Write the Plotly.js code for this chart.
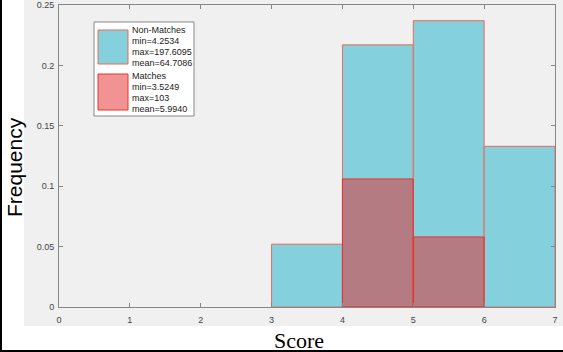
<!DOCTYPE html>
<html>
<head>
<meta charset="utf-8">
<script src="https://cdn.plot.ly/plotly-3.0.1.min.js"></script>
<style>html,body{margin:0;padding:0;background:#fff;}#chart{width:563px;height:352px;}</style>
</head>
<body>
<div id="chart"></div>
<script>
// Histogram bins (bin centers, width 1) and frequencies
const nonMatchBins = [3.5, 4.5, 5.5, 6.5];
const nonMatchFreq = [0.052, 0.217, 0.237, 0.133];
const matchBins = [4.5, 5.5];
const matchFreq = [0.106, 0.058];
const xTicks = [0, 1, 2, 3, 4, 5, 6, 7];
const yTicks = [0, 0.05, 0.1, 0.15, 0.2, 0.25];
const yTickText = ['0', '0.05', '0.1', '0.15', '0.2', '0.25'];
const nonMatchLegend = ['Non-Matches', 'min=4.2534', 'max=197.6095', 'mean=64.7086'];
const matchLegend = ['Matches', 'min=3.5249', 'max=103', 'mean=5.9940'];

const W = 563, H = 352, L = 59, R = 8, T = 5, B = 45;
const pw = W - L - R, ph = H - T - B;
const px = x => (x - L) / pw;
const py = y => (H - B - y) / ph;

const traces = [
  {type: 'bar', x: nonMatchBins, y: nonMatchFreq, width: 1, name: 'Non-Matches',
   marker: {color: '#84d0dc', line: {color: '#ec6a55', width: 1}}, hoverinfo: 'x+y'},
  {type: 'bar', x: matchBins, y: matchFreq, width: 1, name: 'Matches',
   marker: {color: 'rgba(228,40,40,0.5)', line: {color: '#e8322c', width: 1}}, hoverinfo: 'x+y'}
];

const shapes = [
  {type: 'rect', xref: 'paper', yref: 'paper', x0: px(24), x1: px(563), y0: py(0), y1: py(326),
   fillcolor: '#f0f0f0', line: {width: 0}, layer: 'below'},
  {type: 'line', xref: 'paper', yref: 'paper', x0: px(1), x1: px(1), y0: py(0), y1: py(351),
   line: {color: '#000', width: 2}},
  {type: 'line', xref: 'paper', yref: 'paper', x0: px(0), x1: px(563), y0: py(351), y1: py(351),
   line: {color: '#000', width: 2}},
  // legend box
  {type: 'rect', xref: 'paper', yref: 'paper', x0: px(94), x1: px(194), y0: py(22), y1: py(116),
   fillcolor: '#fff', line: {color: '#888', width: 1}},
  {type: 'rect', xref: 'paper', yref: 'paper', x0: px(98), x1: px(128), y0: py(30), y1: py(64),
   fillcolor: '#84d0dc', line: {color: '#ec6a55', width: 1}},
  {type: 'rect', xref: 'paper', yref: 'paper', x0: px(98), x1: px(128), y0: py(74), y1: py(110),
   fillcolor: 'rgba(228,40,40,0.5)', line: {color: '#e8322c', width: 1}}
];

const annotations = [];
const legLines = nonMatchLegend.concat(matchLegend);
const legY = [30, 41, 52, 63, 76, 87, 98, 109];
legLines.forEach((t, i) => {
  annotations.push({text: t, xref: 'paper', yref: 'paper', x: px(130), y: py(legY[i]),
    xanchor: 'left', yanchor: 'middle', showarrow: false,
    font: {family: 'Liberation Sans, Arial, sans-serif', size: 9, color: '#222'}});
});
annotations.push({text: 'Frequency', xref: 'paper', yref: 'paper', x: px(14), y: py(167),
  textangle: -90, xanchor: 'center', yanchor: 'middle', showarrow: false,
  font: {family: 'Liberation Sans, Arial, sans-serif', size: 21, color: '#000'}});
annotations.push({text: 'Score', xref: 'paper', yref: 'paper', x: px(299), y: py(340),
  xanchor: 'center', yanchor: 'middle', showarrow: false,
  font: {family: 'Liberation Serif, Times New Roman, serif', size: 22, color: '#000'}});

const axisCommon = {showgrid: false, zeroline: false, showline: true, linecolor: '#868686', linewidth: 1,
  mirror: 'ticks', ticks: 'inside', ticklen: 4, tickcolor: '#868686',
  tickfont: {family: 'Liberation Sans, Arial, sans-serif', size: 9, color: '#444'}};

const layout = {
  width: W, height: H, margin: {l: L, r: R, t: T, b: B},
  paper_bgcolor: '#ffffff', plot_bgcolor: '#ffffff',
  barmode: 'overlay', bargap: 0, showlegend: false,
  xaxis: Object.assign({}, axisCommon, {range: [0, 7], tickvals: xTicks, ticktext: xTicks.map(String),
    ticklabelstandoff: 4, fixedrange: true}),
  yaxis: Object.assign({}, axisCommon, {range: [0, 0.25], tickvals: yTicks, ticktext: yTickText,
    ticklabelstandoff: 2, fixedrange: true}),
  shapes: shapes, annotations: annotations
};

Plotly.newPlot('chart', traces, layout, {displayModeBar: false, staticPlot: true});
</script>
</body>
</html>
